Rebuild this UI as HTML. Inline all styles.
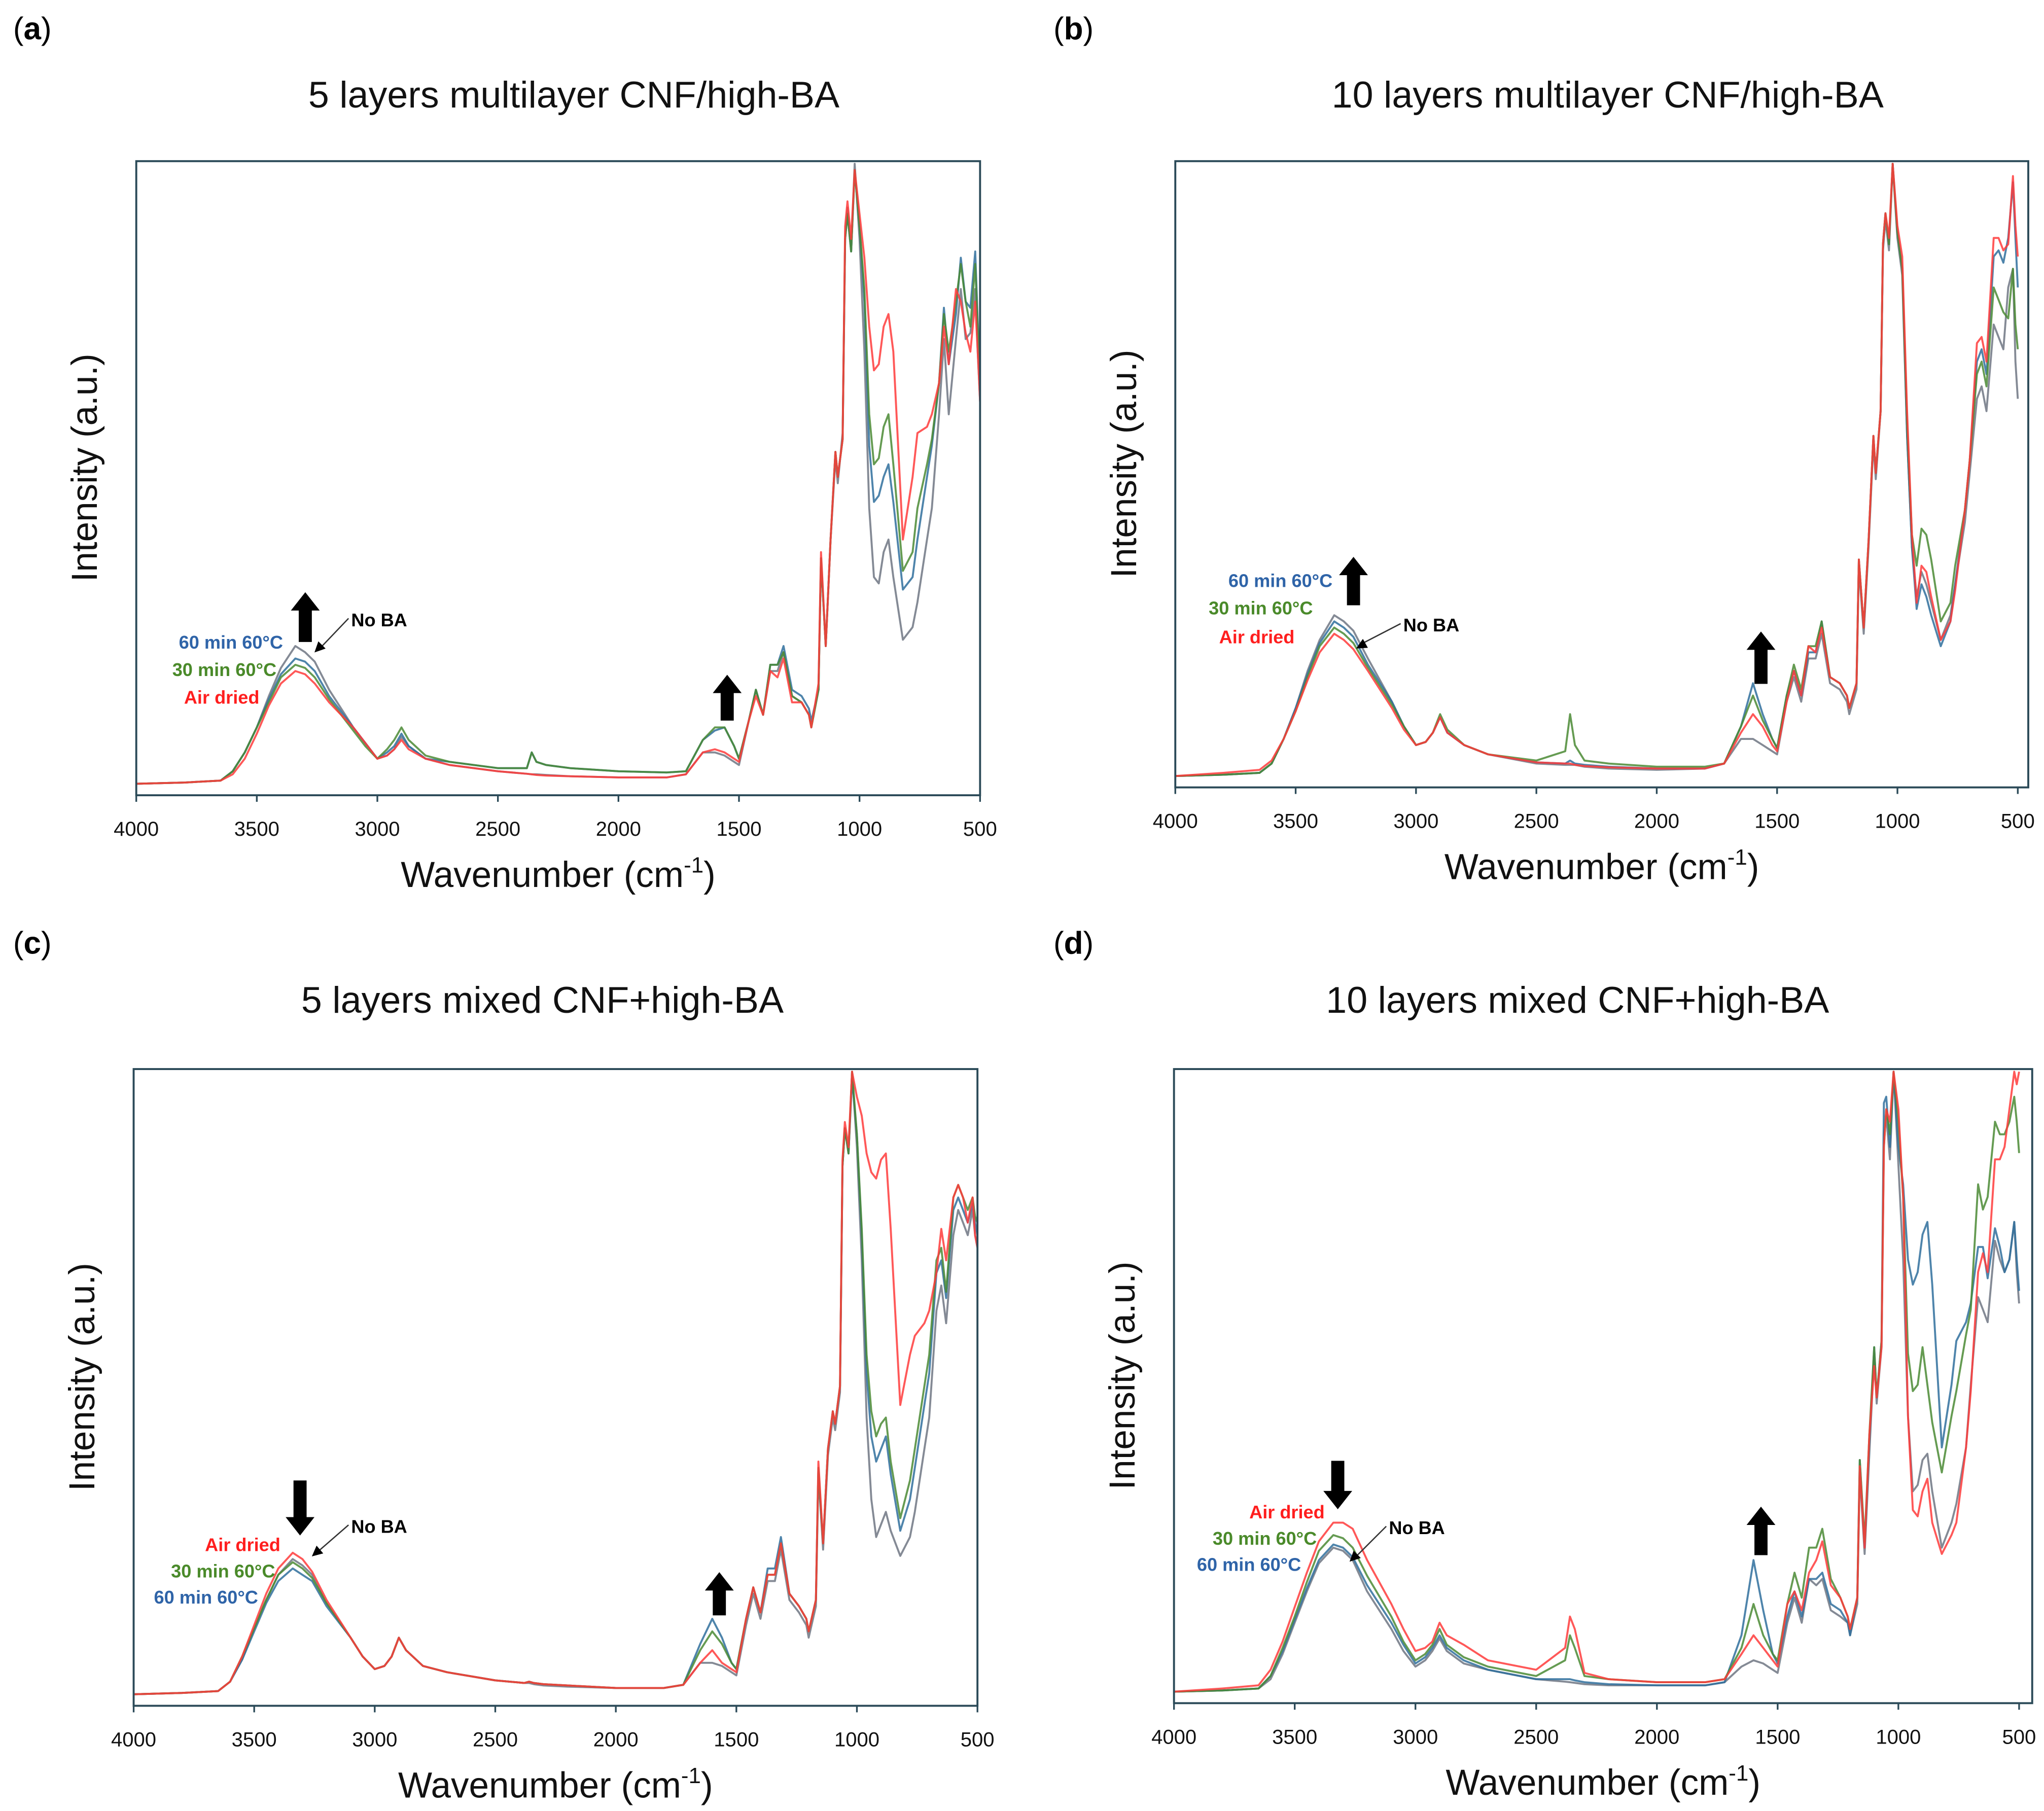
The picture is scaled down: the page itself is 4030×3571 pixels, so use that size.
<!DOCTYPE html>
<html><head><meta charset="utf-8"><style>
html,body{margin:0;padding:0;background:#fff;}
svg{display:block;}
text{font-family:"Liberation Sans","DejaVu Sans",sans-serif;}
</style></head><body>
<svg id="fig" xmlns="http://www.w3.org/2000/svg" width="4030" height="3571" viewBox="0 0 1560 1382.3"></svg>
<script>
// shared wavenumber grid (cm^-1)
const wavenumbers=[4000,3800,3650,3600,3550,3500,3450,3400,3340,3300,
3260,3200,3100,3050,3000,2960,2930,2900,2870,2800,
2700,2500,2380,2360,2340,2300,2200,2000,1800,1720,
1650,1600,1560,1520,1500,1460,1430,1400,1370,1340,
1315,1280,1240,1210,1200,1170,1160,1140,1120,1100,
1090,1070,1060,1050,1035,1020,1000,980,960,940,
920,900,880,860,820,780,760,720,700,670,
650,630,600,580,560,540,520,510,500];
const xTicks=[4000,3500,3000,2500,2000,1500,1000,500];
const seriesNames=["No BA","60 min 60°C","30 min 60°C","Air dried"];
// panel a
const aNoBA=[.01,.012,.015,.03,.06,.10,.15,.195,.23,.22,
.205,.16,.10,.075,.05,.055,.065,.085,.07,.05,
.04,.03,.026,.025,.025,.024,.022,.02,.02,.025,
.06,.06,.055,.045,.04,.11,.16,.12,.19,.19,
.22,.15,.14,.12,.10,.16,.37,.23,.40,.53,
.49,.57,.88,.93,.86,1.0,.88,.70,.45,.34,
.33,.38,.40,.34,.24,.26,.30,.40,.45,.60,
.72,.60,.72,.80,.72,.73,.80,.70,.62];
const a60=[.01,.012,.015,.03,.06,.10,.145,.185,.21,.205,
.19,.15,.10,.075,.05,.06,.07,.09,.07,.05,
.045,.035,.035,.06,.045,.04,.035,.03,.028,.03,
.08,.095,.10,.07,.05,.11,.16,.12,.2,.2,
.23,.16,.15,.13,.11,.16,.37,.23,.40,.54,
.5,.56,.88,.92,.86,.99,.9,.78,.55,.46,
.47,.50,.52,.46,.32,.34,.40,.50,.55,.65,
.77,.68,.76,.85,.78,.77,.86,.75,.66];
const a30=[.01,.012,.015,.03,.06,.10,.14,.18,.2,.195,
.18,.145,.095,.07,.05,.065,.08,.10,.08,.055,
.045,.035,.035,.06,.045,.04,.035,.03,.028,.03,
.08,.10,.10,.07,.05,.11,.16,.12,.2,.2,
.22,.15,.14,.12,.10,.16,.37,.23,.40,.54,
.5,.56,.88,.92,.86,.99,.9,.8,.6,.52,
.53,.58,.6,.52,.35,.38,.45,.52,.56,.65,
.76,.7,.78,.84,.78,.74,.84,.74,.66];
const aAir=[.01,.012,.015,.025,.05,.09,.135,.17,.19,.185,
.17,.14,.10,.075,.05,.055,.065,.08,.065,.05,
.04,.03,.026,.025,.024,.023,.022,.02,.02,.025,
.06,.065,.06,.05,.045,.11,.15,.12,.19,.18,
.21,.14,.14,.12,.10,.17,.38,.23,.40,.54,
.5,.56,.9,.94,.88,.99,.92,.85,.74,.67,
.68,.74,.76,.70,.40,.50,.57,.58,.60,.65,
.74,.68,.8,.78,.73,.70,.78,.70,.62];
// panel b
const bNoBA=[.01,.012,.015,.03,.07,.12,.18,.23,.27,.26,
.245,.2,.13,.09,.06,.065,.08,.105,.08,.06,
.045,.03,.028,.028,.028,.025,.022,.02,.022,.03,
.07,.07,.06,.05,.045,.13,.17,.13,.2,.2,
.24,.16,.15,.13,.11,.15,.35,.24,.38,.55,
.49,.6,.86,.91,.86,1.0,.88,.82,.56,.38,
.3,.34,.32,.29,.23,.27,.32,.42,.5,.62,
.64,.60,.74,.72,.70,.80,.83,.68,.62];
const b60=[.01,.012,.015,.03,.07,.12,.175,.225,.26,.25,
.235,.19,.13,.09,.06,.065,.08,.105,.08,.06,
.045,.032,.03,.035,.03,.028,.025,.022,.022,.03,
.09,.16,.11,.07,.055,.14,.18,.14,.21,.21,
.26,.17,.16,.14,.12,.16,.36,.25,.39,.56,
.5,.6,.87,.92,.87,1.0,.89,.83,.56,.38,
.28,.32,.30,.27,.22,.26,.32,.44,.52,.68,
.70,.66,.85,.86,.84,.88,.97,.88,.8];
const b30=[.01,.012,.015,.03,.07,.115,.17,.22,.25,.24,
.225,.185,.125,.09,.06,.065,.08,.11,.085,.06,
.045,.035,.05,.11,.06,.035,.03,.025,.025,.03,
.09,.14,.10,.07,.055,.14,.19,.15,.22,.22,
.26,.17,.16,.14,.12,.16,.36,.25,.39,.56,
.5,.6,.87,.92,.87,1.0,.89,.83,.58,.40,
.35,.41,.40,.36,.26,.29,.35,.44,.52,.66,
.68,.64,.8,.78,.76,.75,.83,.74,.7];
const bAir=[.01,.015,.02,.035,.07,.115,.165,.21,.24,.23,
.215,.18,.12,.085,.06,.065,.08,.105,.08,.06,
.045,.032,.03,.03,.028,.026,.024,.022,.022,.03,
.08,.11,.09,.06,.05,.13,.18,.14,.22,.21,
.25,.17,.16,.14,.12,.16,.36,.25,.39,.56,
.5,.6,.87,.92,.88,1.0,.9,.85,.6,.40,
.29,.35,.34,.30,.23,.26,.31,.44,.52,.71,
.72,.68,.88,.88,.86,.87,.98,.9,.85];
// panel c
const cNoBA=[.01,.012,.015,.03,.065,.115,.16,.20,.225,.215,
.20,.155,.10,.07,.05,.055,.07,.10,.08,.055,
.045,.032,.028,.028,.026,.024,.022,.02,.02,.025,
.06,.06,.055,.045,.04,.12,.17,.13,.19,.19,
.24,.16,.14,.12,.10,.15,.36,.24,.39,.45,
.43,.49,.85,.91,.87,1.0,.88,.70,.45,.32,
.26,.28,.30,.27,.23,.26,.30,.40,.45,.62,
.66,.60,.74,.78,.76,.74,.78,.74,.72];
const c60=[.01,.012,.015,.03,.065,.11,.155,.19,.21,.20,
.19,.15,.10,.07,.05,.055,.07,.10,.08,.055,
.045,.032,.028,.03,.028,.026,.024,.02,.02,.025,
.09,.13,.10,.06,.05,.13,.18,.14,.21,.21,
.26,.17,.15,.13,.11,.16,.37,.25,.40,.46,
.44,.50,.85,.91,.87,.99,.9,.74,.52,.42,
.38,.40,.42,.36,.27,.32,.37,.47,.52,.68,
.70,.64,.78,.80,.78,.76,.79,.76,.74];
const c30=[.01,.012,.015,.03,.07,.115,.16,.20,.22,.21,
.195,.155,.10,.07,.05,.055,.07,.10,.08,.055,
.045,.032,.028,.03,.028,.026,.024,.02,.02,.025,
.08,.11,.09,.06,.05,.13,.18,.14,.2,.2,
.25,.17,.15,.13,.11,.16,.37,.25,.40,.46,
.44,.50,.85,.91,.87,1.0,.9,.75,.55,.46,
.42,.44,.45,.38,.29,.35,.40,.50,.55,.70,
.72,.65,.80,.82,.80,.78,.80,.77,.76];
const cAir=[.01,.012,.015,.03,.07,.12,.17,.21,.235,.225,
.205,.16,.10,.07,.05,.055,.07,.10,.08,.055,
.045,.032,.028,.03,.028,.026,.024,.02,.02,.025,
.06,.08,.06,.05,.045,.13,.18,.14,.2,.2,
.25,.17,.15,.13,.11,.16,.38,.25,.40,.46,
.44,.50,.86,.92,.88,1.0,.96,.93,.87,.84,
.83,.86,.87,.75,.47,.55,.58,.60,.62,.68,
.75,.70,.80,.82,.80,.76,.80,.74,.72];
// panel d
const dNoBA=[.01,.012,.015,.03,.07,.12,.17,.215,.24,.235,
.22,.17,.11,.075,.05,.06,.075,.095,.075,.055,
.045,.03,.026,.025,.024,.022,.02,.02,.02,.025,
.05,.06,.055,.045,.04,.12,.16,.12,.19,.18,
.19,.14,.13,.12,.10,.15,.36,.23,.39,.55,
.47,.56,.9,.93,.86,1.0,.85,.70,.45,.33,
.34,.38,.39,.33,.24,.28,.31,.40,.50,.64,
.62,.60,.73,.70,.68,.70,.76,.68,.63];
const d60=[.01,.012,.015,.035,.075,.125,.175,.22,.245,.24,
.225,.18,.12,.085,.055,.065,.08,.10,.08,.06,
.045,.03,.03,.03,.028,.025,.022,.02,.02,.025,
.10,.22,.14,.07,.055,.13,.17,.13,.19,.19,
.20,.15,.14,.12,.10,.16,.38,.24,.41,.56,
.48,.57,.95,.96,.88,1.0,.88,.82,.70,.66,
.68,.74,.76,.66,.40,.50,.57,.60,.63,.72,
.72,.67,.75,.72,.68,.70,.76,.70,.65];
const d30=[.01,.012,.015,.035,.08,.13,.185,.235,.26,.255,
.24,.195,.13,.09,.06,.07,.085,.11,.085,.065,
.05,.035,.06,.10,.08,.035,.03,.025,.025,.03,
.08,.15,.10,.07,.06,.15,.20,.16,.24,.24,
.27,.19,.16,.13,.11,.16,.38,.25,.42,.56,
.48,.57,.88,.94,.90,1.0,.92,.80,.55,.49,
.50,.56,.50,.44,.36,.45,.49,.58,.62,.82,
.78,.80,.92,.90,.90,.92,.96,.92,.87];
const dAir=[.01,.015,.02,.045,.09,.145,.2,.25,.28,.28,
.27,.22,.15,.11,.075,.08,.09,.12,.10,.085,
.06,.045,.08,.13,.11,.04,.03,.025,.025,.03,
.07,.10,.08,.06,.05,.15,.17,.14,.2,.22,
.25,.18,.16,.13,.11,.16,.37,.24,.42,.53,
.48,.56,.88,.94,.92,1.0,.94,.80,.45,.30,
.29,.33,.35,.28,.23,.26,.28,.40,.49,.68,
.71,.68,.86,.86,.88,.94,1.0,.98,1.0];

const NS="http://www.w3.org/2000/svg";
const svg=document.getElementById('fig');
const COLORS=["#6e7682","#2f6f9c","#4a8a34","#ff3b3b"];
const LABEL_COLORS={"60":"#2f64a8","30":"#4a8a2a","air":"#ff1e1e"};
function mk(tag,attrs,parent){const e=document.createElementNS(NS,tag);for(const k in attrs)e.setAttribute(k,attrs[k]);(parent||svg).appendChild(e);return e;}

const panels=[
 {id:"a",L:104,R:748,X5:748,T:123,B:607,title:"5 layers multilayer CNF/high-BA",tx:438,ty:82,lx:10,ly:30,data:[aNoBA,a60,a30,aAir],
  labels:[["60 min 60°C","60",216,495],["30 min 60°C","30",211,516],["Air dried","air",198,537]],bigArrow:[233,452,490,"up"],noba:[268,478,240,498],smallArrow:[555,515,550]},
 {id:"b",L:897,R:1548,X5:1540,T:123,B:601,title:"10 layers multilayer CNF/high-BA",tx:1227,ty:82,lx:804,ly:30,data:[bNoBA,b60,b30,bAir],
  labels:[["60 min 60°C","60",1017,448],["30 min 60°C","30",1002,469],["Air dried","air",988,491]],bigArrow:[1033,425,462,"up"],noba:[1071,482,1035,495],smallArrow:[1344,482,522]},
 {id:"c",L:102,R:746,X5:746,T:816,B:1302,title:"5 layers mixed CNF+high-BA",tx:414,ty:773,lx:10,ly:728,data:[cNoBA,c60,c30,cAir],
  labels:[["Air dried","air",214,1184],["30 min 60°C","30",210,1204],["60 min 60°C","60",197,1224]],bigArrow:[229,1130,1172,"down"],noba:[268,1170,238,1188],smallArrow:[549,1200,1233]},
 {id:"d",L:896,R:1551,X5:1541,T:816,B:1300,title:"10 layers mixed CNF+high-BA",tx:1204,ty:773,lx:804,ly:728,data:[dNoBA,d60,d30,dAir],
  labels:[["Air dried","air",1011,1159],["30 min 60°C","30",1005,1179],["60 min 60°C","60",993,1199]],bigArrow:[1021,1115,1152,"down"],noba:[1060,1171,1030,1192],smallArrow:[1344,1150,1187]}
];

panels.forEach(p=>{
 const g=mk('g',{});
 
 
 const xs=v=>p.L+(4000-v)/3500*(p.X5-p.L);
 const ys=v=>p.B-4-v*(p.B-p.T-6);
 const lt=mk('text',{x:p.lx,y:p.ly,'font-size':24,'font-family':'Liberation Serif, serif'},g);
 lt.innerHTML='(<tspan font-weight="bold">'+p.id+'</tspan>)';
 
 
 const t=mk('text',{x:p.tx,y:p.ty,'font-size':28.5,'text-anchor':'middle',fill:'#111'},g);
 t.textContent=p.title;
 
 
 const clip=mk('clipPath',{id:'clip-'+p.id},g);
 mk('rect',{x:p.L,y:p.T,width:p.R-p.L,height:p.B-p.T},clip);
 p.data.forEach((arr,si)=>{
  const pts=arr.map((v,i)=>xs(wavenumbers[i]).toFixed(1)+','+ys(v).toFixed(1)).join(' ');
  const pl=mk('polyline',{points:pts,fill:'none',stroke:COLORS[si],'stroke-width':1.5,'stroke-linejoin':'round',opacity:0.85,'clip-path':'url(#clip-'+p.id+')'},g);
  
  
 });
 const fr=mk('rect',{x:p.L,y:p.T,width:p.R-p.L,height:p.B-p.T,fill:'none',stroke:'#2b4a58','stroke-width':1.5},g);
 
 
 xTicks.forEach(v=>{
  const x=xs(v);
  const tk=mk('line',{x1:x,x2:x,y1:p.B,y2:p.B+5,stroke:'#2b4a58','stroke-width':1.3},g);
  
  
  const tl=mk('text',{x:x,y:p.B+31,'font-size':15.5,'text-anchor':'middle',fill:'#111'},g);
  tl.textContent=v;
  
  
 });
 const xl=mk('text',{x:(p.L+p.R)/2,y:p.B+70,'font-size':27.5,'text-anchor':'middle',fill:'#111'},g);
 xl.innerHTML='Wavenumber (cm<tspan dy="-11" font-size="17">-1</tspan><tspan dy="11">)</tspan>';
 
 
 const yc=(p.T+p.B)/2-8;
 const yl=mk('text',{x:0,y:0,'font-size':27.5,'text-anchor':'middle',fill:'#111',transform:'translate('+(p.L-30)+','+yc+') rotate(-90)'},g);
 yl.textContent='Intensity (a.u.)';
 
 
 p.labels.forEach(l=>{
  const at=mk('text',{x:l[2],y:l[3],'font-size':14,'font-weight':'bold','text-anchor':'end',fill:LABEL_COLORS[l[1]]},g);
  at.textContent=l[0];
  
  
 });
 const [ax,ay1,ay2,dir]=p.bigArrow;
 const ba=mk('path',{d: dir==='up'
   ? `M${ax-11},${ay1+14} L${ax},${ay1} L${ax+11},${ay1+14} L${ax+5},${ay1+14} L${ax+5},${ay2} L${ax-5},${ay2} L${ax-5},${ay1+14} Z`
   : `M${ax-11},${ay2-14} L${ax},${ay2} L${ax+11},${ay2-14} L${ax+5},${ay2-14} L${ax+5},${ay1} L${ax-5},${ay1} L${ax-5},${ay2-14} Z`,fill:'#000'},g);
 
 
 const [sx,sy1,sy2]=p.smallArrow;
 const sa=mk('path',{d:`M${sx-11},${sy1+14} L${sx},${sy1} L${sx+11},${sy1+14} L${sx+5},${sy1+14} L${sx+5},${sy2} L${sx-5},${sy2} L${sx-5},${sy1+14} Z`,fill:'#000'},g);
 
 
 const [nx,ny,px,py]=p.noba;
 const nt=mk('text',{x:nx,y:ny,'font-size':14,'font-weight':'bold',fill:'#000'},g);
 nt.textContent='No BA';
 
 
 const nl=mk('line',{x1:nx-2,y1:ny-6,x2:px+5,y2:py-4,stroke:'#333','stroke-width':1},g);
 
 
 const ang=Math.atan2(py-(ny-6),px-(nx-2));
 const hx=px,hy=py,s=9;
 const nh=mk('path',{d:`M${hx},${hy} L${hx-s*Math.cos(ang-0.45)},${hy-s*Math.sin(ang-0.45)} L${hx-s*Math.cos(ang+0.45)},${hy-s*Math.sin(ang+0.45)} Z`,fill:'#000'},g);
 
 
});
</script>
</body></html>
